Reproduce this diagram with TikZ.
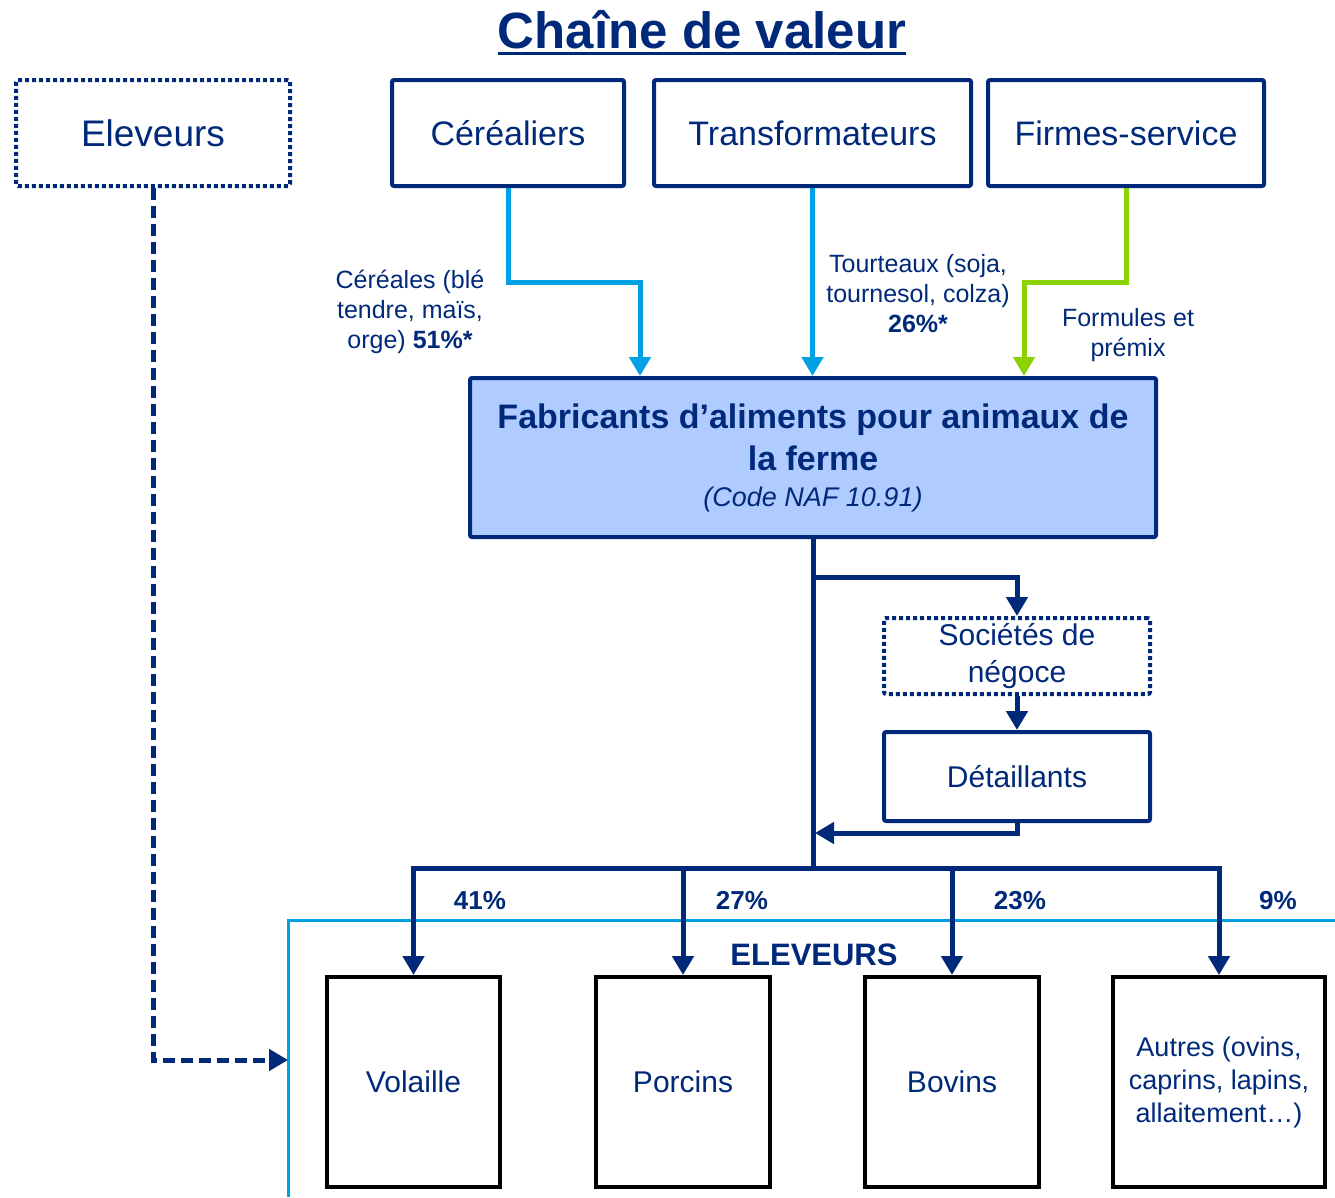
\documentclass[tikz,border=0pt]{standalone}
\usepackage{fontspec}
\setmainfont{Liberation Sans}
\usepackage{xcolor}
\usepackage{tikz}
\usetikzlibrary{arrows.meta}
\usetikzlibrary{calc,positioning}
\definecolor{navy}{RGB}{0,41,122}
\definecolor{sky}{RGB}{0,160,227}
\definecolor{lime}{RGB}{140,210,0}
\definecolor{fabfill}{RGB}{176,203,255}
\tikzset{%
  >={Triangle[width=21pt,length=19pt]},
  % Specifications for style of nodes:
  base/.style = {rectangle, rounded corners=2pt, draw=navy, line width=4pt,
    minimum height=106pt, inner sep=0pt,
    text=navy, align=center, font=\fontsize{34}{40}\selectfont},
  dotbox/.style = {dash pattern=on 4pt off 3pt},
  fabricant/.style = {base, fill=fabfill, minimum width=686pt,
    minimum height=159pt, font=\bfseries\fontsize{34}{42}\selectfont},
  trade/.style = {base, minimum width=266pt, font=\fontsize{30}{37}\selectfont},
  farmbox/.style = {base, draw=black, rounded corners=0pt, minimum height=210pt,
    font=\fontsize{30}{36}\selectfont},
  flowlabel/.style = {text=navy, align=center, inner sep=0pt,
    font=\fontsize{25}{30}\selectfont},
  share/.style = {text=navy, inner sep=0pt, font=\bfseries\fontsize{26}{30}\selectfont},
  % Specifications for style of connectors:
  flow/.style = {draw=navy, line width=5pt},
  supply/.style = {draw=sky, line width=5pt},
  premix/.style = {draw=lime, line width=5pt},
}

\begin{document}
\begin{tikzpicture}[x=1pt, y=-1pt]
  \useasboundingbox (0,0) rectangle (1335,1197);
  % Specification of nodes (position, etc.)
  \node(Title)[anchor=base, text=navy, inner sep=0pt,
    font=\bfseries\fontsize{51}{60}\selectfont] at (702,48) {Chaîne de valeur};
  \node(Ele)[base, dotbox, minimum width=274pt, font=\fontsize{37}{40}\selectfont]
    at (153,133) {Eleveurs};
  \node(Cer)[base, minimum width=232pt] at (508,133) {Céréaliers};
  \node(Tra)[base, minimum width=317pt] at (812.5,133) {Transformateurs};
  \node(Fir)[base, minimum width=276pt] at (1126,133) {Firmes-service};
  \node(Fab)[fabricant] at (813,457.5) {Fabricants d’aliments pour animaux de\\
    la ferme\\[-6pt]
    {\mdseries\itshape\fontsize{27}{42}\selectfont (Code NAF 10.91)}};
  \node(Soc)[trade, dotbox, minimum height=76pt] at (1017,656) {Sociétés de\\négoce};
  \node(Det)[trade, minimum height=89pt, below=34pt of Soc] {Détaillants};
  \node(Vol)[farmbox, minimum width=173pt] at (413.5,1082) {Volaille};
  \node(Por)[farmbox, minimum width=174pt] at (683,1082) {Porcins};
  \node(Bov)[farmbox, minimum width=174pt] at (952,1082) {Bovins};
  \node(Aut)[farmbox, minimum width=212pt, font=\fontsize{27}{33}\selectfont]
    at (1219,1082) {Autres (ovins,\\caprins, lapins,\\allaitement…)};
  % labels
  \node(CerLab)[flowlabel] at (410,312) {Céréales (blé\\tendre, maïs,\\orge) \textbf{51\%*}};
  \node(TraLab)[flowlabel] at (918,294) {Tourteaux (soja,\\tournesol, colza)\\\textbf{26\%*}};
  \node(FirLab)[flowlabel] at (1128,335) {Formules et\\prémix};
  \node(s41)[share] at (480,901) {41\%};
  \node(s27)[share] at (742,901) {27\%};
  \node(s23)[share] at (1020,901) {23\%};
  \node(s9)[share] at (1278,901) {9\%};
  \node(Farms)[share, font=\bfseries\fontsize{31}{36}\selectfont] at (814,955) {ELEVEURS};
  \draw[navy, line width=3pt] ([yshift=-5pt]Title.base west) -- ([yshift=-5pt]Title.base east);
  % breeders frame
  \draw[draw=sky, line width=3pt] (288,1197) |- (1335,920);
  % Specification of connectors
  \coordinate (cerTurn) at (640,282);
  \coordinate (firTurn) at (1024,282);
  \coordinate (split) at (813,577);
  \coordinate (back) at (815,833);
  \coordinate (bus) at (813,868);
  \coordinate (farmIn) at (288,1060);
  \draw[supply,->](Cer.south) |- (cerTurn) -- (cerTurn |- Fab.north);
  \draw[supply,->](Tra.south) -- (Tra.south |- Fab.north);
  \draw[premix,->](Fir.south) |- (firTurn) -- (firTurn |- Fab.north);
  \draw[flow](Fab.south) -- (bus);
  \draw[flow,->](split) -| (Soc.north);
  \draw[flow,->](Soc) -- (Det);
  \draw[flow,->](Det.south) |- (back);
  \foreach \n in {Vol,Por,Bov,Aut}
    \draw[flow,->](bus) -| (\n.north);
  \draw[flow, dash pattern=on 12pt off 6pt, ->](Ele.south) |- (farmIn);
\end{tikzpicture}
\end{document}
